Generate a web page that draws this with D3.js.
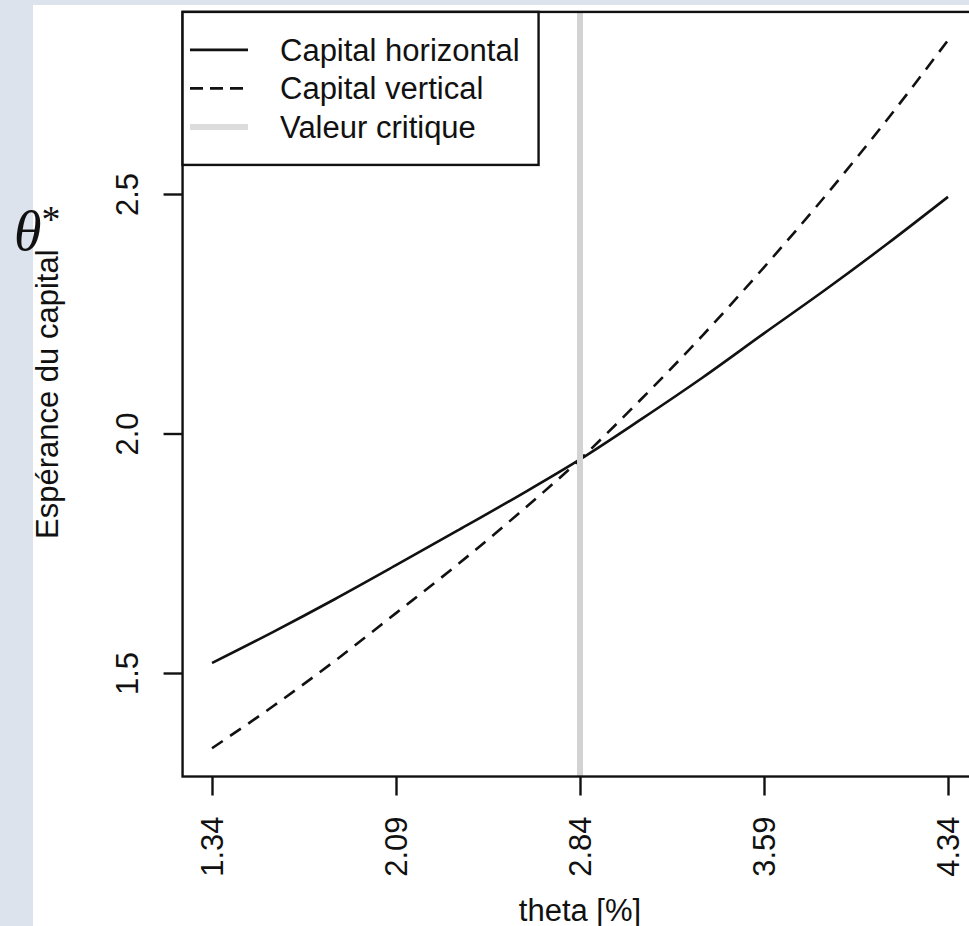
<!DOCTYPE html>
<html>
<head>
<meta charset="utf-8">
<script src="https://cdn.jsdelivr.net/npm/d3@7"></script>
<style>
  body { margin: 0; background: #dce3ec; }
  svg { display: block; }
</style>
</head>
<body>
<svg id="chart"></svg>
<script>
// theta values (in %) where both series are evaluated
var thetaValues = [1.34, 1.59, 1.84, 2.09, 2.34, 2.59, 2.84, 3.09, 3.34, 3.59, 3.84, 4.09, 4.34];
// expected capital, horizontal vs vertical
var horizontalValues = [1.521, 1.586, 1.654, 1.725, 1.797, 1.870, 1.946, 2.030, 2.117, 2.209, 2.300, 2.395, 2.494];
var verticalValues = [1.343, 1.431, 1.525, 1.625, 1.726, 1.833, 1.946, 2.072, 2.205, 2.347, 2.496, 2.654, 2.821];
var criticalValue = 2.84;
var xTicks = [1.34, 2.09, 2.84, 3.59, 4.34];
var yTicks = [1.5, 2.0, 2.5];
var legendLabels = ["Capital horizontal", "Capital vertical", "Valeur critique"];

var width = 969, height = 926;
var font = "'Liberation Sans', Arial, sans-serif";
var fontSize = "31px";

var svg = d3.select("#chart").attr("width", width).attr("height", height);

// bluish page behind, white figure area
svg.append("rect").attr("width", width).attr("height", height).attr("fill", "#dce3ec");
svg.append("rect").attr("x", 33).attr("y", 5)
  .attr("width", width - 33).attr("height", height - 5).attr("fill", "white");

// R style limits: data range padded by 4%
var xExt = d3.extent(thetaValues);
var yExt = d3.extent(horizontalValues.concat(verticalValues));
var xPad = (xExt[1] - xExt[0]) * 0.04, yPad = (yExt[1] - yExt[0]) * 0.04;

var x = d3.scaleLinear().domain([1.34, 4.34]).range([212, 948]);
var y = d3.scaleLinear().domain([1.5, 2.5]).range([673, 194]);

var plotLeft = x(xExt[0] - xPad), plotRight = x(xExt[1] + xPad);
var plotTop = y(yExt[1] + yPad), plotBottom = y(yExt[0] - yPad);

var line = d3.line()
  .x((d) => x(d[0]))
  .y((d) => y(d[1]))
  .curve(d3.curveMonotoneX);

svg.append("path")
  .datum(thetaValues.map((t, i) => [t, horizontalValues[i]]))
  .attr("d", line)
  .attr("fill", "none")
  .attr("stroke", "#111")
  .attr("stroke-width", 2.6);

svg.append("path")
  .datum(thetaValues.map((t, i) => [t, verticalValues[i]]))
  .attr("d", line)
  .attr("fill", "none")
  .attr("stroke", "#111")
  .attr("stroke-width", 2.6)
  .attr("stroke-dasharray", "13,9");

// critical value
svg.append("line")
  .attr("x1", x(criticalValue)).attr("x2", x(criticalValue))
  .attr("y1", plotTop).attr("y2", plotBottom)
  .attr("stroke", "#d3d3d3")
  .attr("stroke-width", 6);

// plot frame
svg.append("rect")
  .attr("x", plotLeft).attr("y", plotTop)
  .attr("width", plotRight - plotLeft).attr("height", plotBottom - plotTop)
  .attr("fill", "none")
  .attr("stroke", "#111")
  .attr("stroke-width", 2.4);

// x axis, labels perpendicular
var xAxis = svg.append("g")
  .attr("transform", `translate(0,${plotBottom})`)
  .call(d3.axisBottom(x).tickValues(xTicks).tickSize(19).tickFormat(d3.format(".2f")));
xAxis.select(".domain").remove();
xAxis.selectAll("line").attr("stroke", "#111").attr("stroke-width", 2.4);
xAxis.selectAll("text")
  .attr("transform", "rotate(-90)")
  .attr("x", -40).attr("y", 0).attr("dy", "0.35em")
  .style("text-anchor", "end")
  .style("font-family", font).style("font-size", fontSize).attr("fill", "#111");

// y axis, labels parallel
var yAxis = svg.append("g")
  .attr("transform", `translate(${plotLeft},0)`)
  .call(d3.axisLeft(y).tickValues(yTicks).tickSize(19).tickFormat(d3.format(".1f")));
yAxis.select(".domain").remove();
yAxis.selectAll("line").attr("stroke", "#111").attr("stroke-width", 2.4);
yAxis.selectAll("text")
  .attr("transform", "rotate(-90)")
  .attr("x", 0).attr("y", -45).attr("dy", 0)
  .style("text-anchor", "middle")
  .style("font-family", font).style("font-size", fontSize).attr("fill", "#111");

// axis titles
svg.append("text")
  .attr("x", (plotLeft + plotRight) / 2).attr("y", 921)
  .style("text-anchor", "middle")
  .style("font-family", font).style("font-size", fontSize).attr("fill", "#111")
  .text("theta [%]");

svg.append("text")
  .attr("transform", `translate(58,${(plotTop + plotBottom) / 2}) rotate(-90)`)
  .style("text-anchor", "middle")
  .style("font-family", font).style("font-size", fontSize).attr("fill", "#111")
  .text("Espérance du capital");

// theta star annotation on top of the figure
var thetaStar = svg.append("text")
  .attr("x", 14).attr("y", 250)
  .style("font-family", "'Liberation Serif', 'DejaVu Serif', serif")
  .attr("fill", "#111");
thetaStar.append("tspan").style("font-style", "italic").style("font-size", "56px").text("θ");
thetaStar.append("tspan").attr("dy", -18).style("font-size", "38px").text("*");

// legend
var legend = svg.append("g");
legend.append("rect")
  .attr("x", plotLeft).attr("y", plotTop)
  .attr("width", 356).attr("height", 153)
  .attr("fill", "white")
  .attr("stroke", "#111")
  .attr("stroke-width", 2.4);

var legendStyles = [
  { color: "#111", width: 2.6, dash: null },
  { color: "#111", width: 2.6, dash: "13,7" },
  { color: "#dcdcdc", width: 6, dash: null },
];

var rows = legend.selectAll("g.row")
  .data(legendLabels)
  .enter()
  .append("g")
  .attr("class", "row")
  .attr("transform", (d, i) => `translate(0,${plotTop + 38 + i * 38.5})`);

rows.append("line")
  .attr("x1", 190).attr("x2", 248)
  .attr("stroke", (d, i) => legendStyles[i].color)
  .attr("stroke-width", (d, i) => legendStyles[i].width)
  .attr("stroke-dasharray", (d, i) => legendStyles[i].dash);

rows.append("text")
  .attr("x", 280).attr("dy", "0.35em")
  .style("font-family", font).style("font-size", fontSize).attr("fill", "#111")
  .text((d) => d);
</script>
</body>
</html>
